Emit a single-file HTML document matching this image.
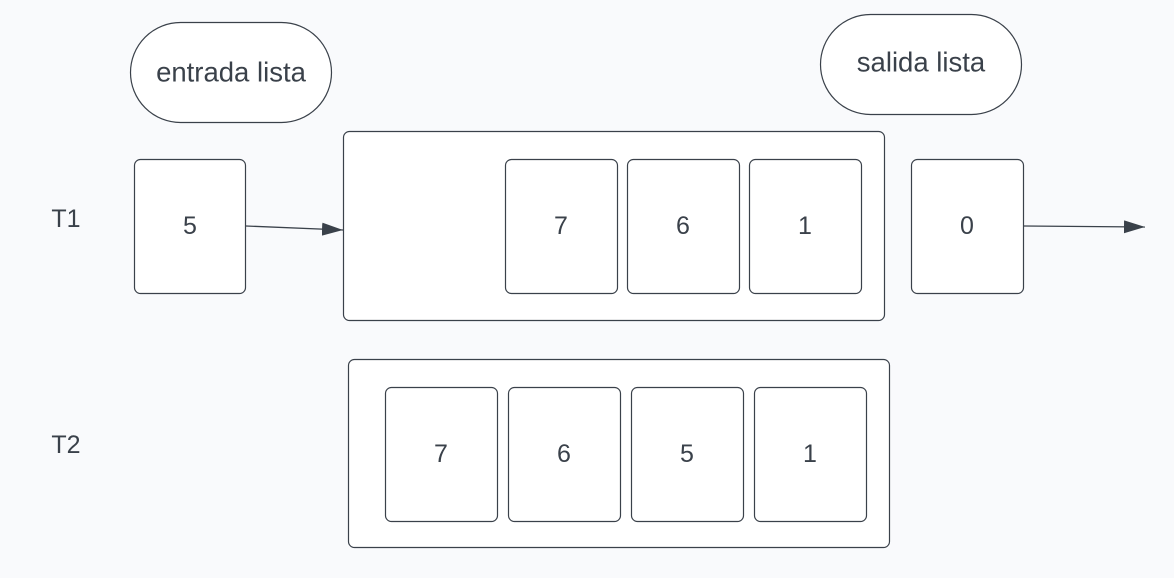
<!DOCTYPE html>
<html><head><meta charset="utf-8"><style>
html,body{margin:0;padding:0;background:#f9fafc;}
svg{display:block;}
text{font-family:"Liberation Sans",sans-serif;fill:#3a414a;}
</style></head><body>
<svg width="1174" height="578" viewBox="0 0 1174 578">
<defs><marker id="ah" viewBox="0 0 10 10" refX="10" refY="5" markerWidth="21" markerHeight="13" markerUnits="userSpaceOnUse" orient="auto" preserveAspectRatio="none"><path d="M0,0L10,5L0,10z" fill="#3a414a"/></marker></defs>
<rect width="1174" height="578" fill="#f9fafc"/>
<g stroke="#3a414a" stroke-width="1.2" fill="#ffffff">
<rect x="130.5" y="22.5" width="201" height="100" rx="50"/>
<rect x="820.5" y="14.5" width="201" height="100" rx="50"/>
<rect x="134.5" y="159.5" width="111" height="134" rx="6"/>
<rect x="343.5" y="131.5" width="541" height="189" rx="6"/>
<rect x="505.5" y="159.5" width="112" height="134" rx="6"/>
<rect x="627.5" y="159.5" width="112" height="134" rx="6"/>
<rect x="749.5" y="159.5" width="112" height="134" rx="6"/>
<rect x="911.5" y="159.5" width="112" height="134" rx="6"/>
<rect x="348.5" y="359.5" width="541" height="188" rx="6"/>
<rect x="385.5" y="387.5" width="112" height="134" rx="6"/>
<rect x="508.5" y="387.5" width="112" height="134" rx="6"/>
<rect x="631.5" y="387.5" width="112" height="134" rx="6"/>
<rect x="754.5" y="387.5" width="112" height="134" rx="6"/>
</g>
<line x1="246" y1="226" x2="343" y2="230" stroke="#3a414a" stroke-width="1.3" marker-end="url(#ah)"/>
<line x1="1024" y1="226" x2="1145" y2="227" stroke="#3a414a" stroke-width="1.3" marker-end="url(#ah)"/>
<g font-size="25" text-anchor="middle" dominant-baseline="central">
<text x="231" y="72" font-size="27.5">entrada lista</text>
<text x="921" y="62" font-size="27.5">salida lista</text>
<text x="66" y="219">T1</text>
<text x="66" y="445">T2</text>
<text x="190" y="226">5</text>
<text x="561" y="226">7</text>
<text x="683" y="226">6</text>
<text x="805" y="226">1</text>
<text x="967" y="226">0</text>
<text x="441" y="454">7</text>
<text x="564" y="454">6</text>
<text x="687" y="454">5</text>
<text x="810" y="454">1</text>
</g>
</svg>
</body></html>
